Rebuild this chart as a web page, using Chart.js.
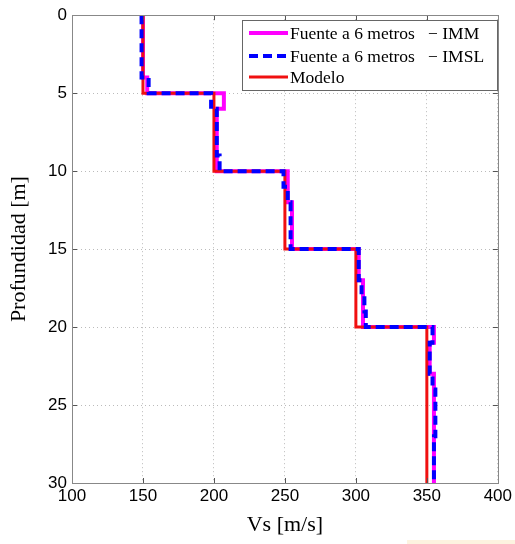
<!DOCTYPE html>
<html>
<head>
<meta charset="utf-8">
<script src="https://cdn.jsdelivr.net/npm/chart.js@4.4.1/dist/chart.umd.min.js"></script>
<style>
    html, body { margin: 0; padding: 0; background: #fff; }
    #wrap { position: relative; width: 515px; height: 544px; }
    #marca { position: absolute; left: 407px; top: 540px; width: 108px; height: 4px; background: #fdf3e0; }
</style>
</head>
<body>
<div id="wrap">
    <canvas id="perfil" width="515" height="544"></canvas>
    <div id="marca"></div>
</div>
<script>
// Capas: profundidad de techo de cada capa [m] y velocidad Vs [m/s]
const techoIMM = [0, 4, 5, 6, 10, 12, 15, 17, 20, 21, 23, 30];
const vsIMM    = [150, 153, 207, 202, 252, 255, 302, 305, 355, 352, 355];

const techoIMSL = [0, 4, 5, 6, 9, 10, 11, 12, 15, 17, 18, 19, 20, 21, 23, 24, 27, 30];
const vsIMSL    = [149, 154, 198, 202, 204, 249, 252, 254, 302, 304, 306, 307, 354, 352, 354, 356, 355];

const techoModelo = [0, 5, 10, 15, 20, 30];
const vsModelo    = [150, 200, 250, 300, 350];

const ticksX = [100, 150, 200, 250, 300, 350, 400];
const ticksY = [0, 5, 10, 15, 20, 25, 30];

const etiquetas = ['Fuente a 6 metros   \u2212 IMM', 'Fuente a 6 metros   \u2212 IMSL', 'Modelo'];

// convierte capas en puntos de escalera
function escalera(techos, vs){
    var pts = [];
    for (var i = 0; i < vs.length; i++){
        pts.push({ x: vs[i], y: techos[i] });
        pts.push({ x: vs[i], y: techos[i + 1] });
    }
    return pts;
}

const serif = "'Liberation Serif', 'Times New Roman', serif";
const sans = "'Liberation Sans', Arial, sans-serif";

// marcas hacia adentro, caja completa y leyenda, estilo matlab
const marcos = {
    id: 'marcos',
    afterDatasetsDraw(chart){
        const ctx = chart.ctx, a = chart.chartArea;
        const sx = chart.scales.x, sy = chart.scales.y;
        ctx.save();
        ctx.strokeStyle = '#555';
        ctx.lineWidth = 1;
        ctx.beginPath();
        ticksX.forEach(function(v){
            var px = Math.round(sx.getPixelForValue(v)) + 0.5;
            ctx.moveTo(px, a.bottom); ctx.lineTo(px, a.bottom - 5);
            ctx.moveTo(px, a.top); ctx.lineTo(px, a.top + 5);
        });
        ticksY.forEach(function(v){
            var py = Math.round(sy.getPixelForValue(v)) + 0.5;
            ctx.moveTo(a.left, py); ctx.lineTo(a.left + 5, py);
            ctx.moveTo(a.right, py); ctx.lineTo(a.right - 5, py);
        });
        ctx.stroke();
        ctx.strokeStyle = '#888';
        ctx.strokeRect(Math.round(a.left) + 0.5, Math.round(a.top) + 0.5, Math.round(a.right - a.left), Math.round(a.bottom - a.top));
        ctx.restore();
    },
    afterDraw(chart){
        const ctx = chart.ctx;
        const x0 = 242, y0 = 20, w = 255, h = 70;
        ctx.save();
        ctx.fillStyle = '#fff';
        ctx.fillRect(x0, y0, w, h);
        ctx.strokeStyle = '#666';
        ctx.lineWidth = 1;
        ctx.strokeRect(x0 + 0.5, y0 + 0.5, w, h);
        const filas = [33, 56, 77];
        chart.data.datasets.forEach(function(ds, i){
            ctx.beginPath();
            ctx.strokeStyle = ds.borderColor;
            ctx.lineWidth = ds.borderWidth;
            ctx.setLineDash(ds.borderDash || []);
            ctx.moveTo(249, filas[i]);
            ctx.lineTo(288, filas[i]);
            ctx.stroke();
            ctx.setLineDash([]);
            ctx.fillStyle = '#000';
            ctx.font = '17.5px ' + serif;
            ctx.textBaseline = 'middle';
            ctx.fillText(ds.label, 290, filas[i] + 1);
        });
        ctx.restore();
    }
};

new Chart(document.getElementById('perfil').getContext('2d'), {
    type: 'line',
    data: {
        datasets: [
            {
                label: etiquetas[0],
                data: escalera(techoIMM, vsIMM),
                borderColor: '#ff00ff',
                borderWidth: 4,
                order: 3
            },
            {
                label: etiquetas[1],
                data: escalera(techoIMSL, vsIMSL),
                borderColor: '#0000ff',
                borderWidth: 4,
                borderDash: [9, 5],
                order: 1
            },
            {
                label: etiquetas[2],
                data: escalera(techoModelo, vsModelo),
                borderColor: '#f01010',
                borderWidth: 3,
                order: 2
            }
        ]
    },
    options: {
        responsive: false,
        animation: false,
        parsing: false,
        elements: { point: { radius: 0 }, line: { tension: 0, fill: false } },
        layout: { padding: { left: 0, top: 14, right: 16, bottom: 0 } },
        plugins: { legend: { display: false }, tooltip: { enabled: false } },
        scales: {
            x: {
                type: 'linear',
                min: 100, max: 400,
                afterBuildTicks: function(s){ s.ticks = ticksX.map(function(v){ return { value: v }; }); },
                afterFit: function(s){ s.height = 61; },
                ticks: { color: '#000', font: { family: sans, size: 17 }, padding: 3, maxRotation: 0 },
                grid: { color: '#bbb', drawTicks: false, lineWidth: 1 },
                border: { color: '#888', dash: [1, 3] },
                title: { display: true, text: 'Vs [m/s]', color: '#000', font: { family: serif, size: 22 }, padding: { top: 0, bottom: 6 } }
            },
            y: {
                type: 'linear',
                reverse: true,
                min: 0, max: 30,
                afterBuildTicks: function(s){ s.ticks = ticksY.map(function(v){ return { value: v }; }); },
                afterFit: function(s){ s.width = 72; },
                ticks: { color: '#000', font: { family: sans, size: 17 }, padding: 5 },
                grid: { color: '#bbb', drawTicks: false, lineWidth: 1 },
                border: { color: '#888', dash: [1, 3] },
                title: { display: true, text: 'Profundidad [m]', color: '#000', font: { family: serif, size: 22 }, padding: { top: 6, bottom: 0 } }
            }
        }
    },
    plugins: [marcos]
});
</script>
</body>
</html>
